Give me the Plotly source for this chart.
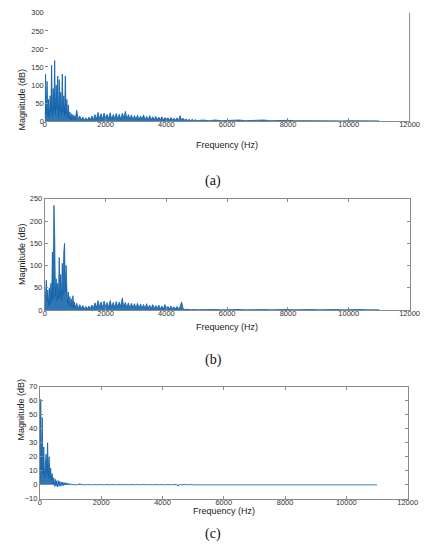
import numpy as np
import plotly.graph_objects as go

# ---------------- data (magnitudes) ----------------
# frequency grids: low band 0..1000 Hz (25 Hz), mid band 1050..5000 Hz (50 Hz), tail 5200..11000 Hz (200 Hz)
low_a = [5,130,20,110,15,60,10,70,25,155, 15,90,30,168,20,100,35,125,10,115,
         30,80,15,130,25,70,15,125,20,60, 10,45,8,25,5,20,4,18,6,15, 3]
mid_a = [30,4,14,3,11,2,9,2,11,3, 14,4,18,5,24,6,20,5,22,7,
         19,6,23,5,18,7,21,6,19,5, 22,8,27,6,18,5,17,4,15,5,
         16,4,14,5,17,4,13,3,15,4, 12,3,13,4,11,3,12,2,10,3,
         9,2,10,3,8,2,9,2,15,3, 8,2,6,1,5,1,5,1,4,1]
tail_a = [3,1,3,1,2,1,3,1,2,1, 3,1,2,1,2,1,2,1,1,0.5, 1,0.5,1,0.5,1,0.5,1,0.5,1,0.5]

low_b = [5,40,67,20,45,10,50,15,60,20, 130,25,235,165,30,70,20,60,25,118,
         30,80,20,105,35,130,150,40,100,50, 15,40,10,30,8,25,6,32,5,18, 4]
mid_b = [15,3,12,3,10,2,8,2,9,3, 11,4,16,5,21,6,18,5,20,6,
         17,5,21,6,17,5,19,6,18,7, 27,6,17,5,16,4,15,5,14,4,
         15,4,13,4,12,3,14,3,11,3, 12,3,10,3,11,2,9,2,12,3,
         8,2,9,2,7,2,8,2,7,18, 3,1,1.5,0.5,1,0.5,1,0.5,1,0.5]
tail_b = [1,0.3,1,0.3,1,0.3,1,0.3,1,0.3, 1,0.3,1,0.3,1,0.3,1,0.3,1,0.3, 1,0.3,1,0.3,1,0.3,1,0.3,1,0.3]

low_c = [2,61,10,48,8,27,5,15,22,8, 30,6,20,5,12,3,8,1,5,-1,
         4,-1,3,-1.5,3,-1,2.5,-1,2,-0.5, 2,-0.5,1.5,0,1.5,0,1,0,1,0, 0.5]
mid_c = [0.2,0,0.2,0,0.2,0.8,0.2,0,0.2,0, 0.2,0,0.2,0,0.2,0,0.2,0,0.2,0,
         0.2,0,0.2,0,0.2,0,0.2,0,0.2,0, 0.2,0,0.2,0,0.2,0,0.2,0,0.2,0,
         0.2,0,0.2,0,0.2,0,0.2,0,0.2,0, 0.2,0,0.2,0,0.2,0,0.2,0,0.2,0,
         0.2,0,0.2,0,0.2,0,0.2,0,0.2,-0.8, 0.2,0,0.2,0,0.2,0,0.2,0,0.2,0]
tail_c = [0]*30

x_ticks = [0, 2000, 4000, 6000, 8000, 10000, 12000]
x_tick_labels = ["0", "2000", "4000", "6000", "8000", "10000", "12000"]
y_ticks_a = [0, 50, 100, 150, 200, 250, 300]
y_ticks_b = [0, 50, 100, 150, 200, 250]
y_ticks_c = [-10, 0, 10, 20, 30, 40, 50, 60, 70]
captions = ["(a)", "(b)", "(c)"]

freq = np.concatenate([np.arange(0, 1001, 25), np.arange(1050, 5001, 50), np.arange(5200, 11001, 200)])

W, H = 440, 556
def px(x): return x / W
def py(y): return 1 - y / H

LINE = "#0b5ea8"
AX = "#8a8a8a"
FONT = "Liberation Sans, Arial, sans-serif"

fig = go.Figure()
panels = [
    (low_a + mid_a + tail_a, (44, 419), (9, 119), [0, 300], y_ticks_a, 17.5),
    (low_b + mid_b + tail_b, (44, 419), (198, 311), [0, 250], y_ticks_b, 17.5),
    (low_c + mid_c + tail_c, (39, 417), (389, 503), [-10, 70], y_ticks_c, 19.5),
]
for i, (vals, (x0, x1), (y0, y1), yr, yt, toff) in enumerate(panels):
    n = "" if i == 0 else str(i + 1)
    fig.add_trace(go.Scatter(x=freq, y=vals, mode="lines", line=dict(color=LINE, width=0.8),
                             fill="tozeroy", fillcolor="rgba(11,94,168,0.85)",
                             xaxis="x" + n, yaxis="y" + n, showlegend=False, hoverinfo="skip"))
    full_box = i > 0
    fig.layout["xaxis" + n] = dict(domain=[px(x0), px(x1)], anchor="y" + n, range=[0, 12000],
                                   tickvals=x_ticks, ticktext=x_tick_labels,
                                   ticks="inside", ticklen=3, tickcolor=AX, ticklabelstandoff=-4,
                                   showline=True, linecolor=AX, linewidth=1, mirror="ticks" if full_box else False,
                                   showgrid=False, zeroline=False,
                                   tickfont=dict(family=FONT, size=7.5, color="#333"))
    fig.layout["yaxis" + n] = dict(domain=[py(y1), py(y0)], anchor="x" + n, range=yr,
                                   tickvals=yt, ticks="inside", ticklen=3, tickcolor=AX,
                                   showline=full_box, linecolor=AX, linewidth=1, mirror="ticks" if full_box else False,
                                   showgrid=False, zeroline=False,
                                   tickfont=dict(family=FONT, size=7.5, color="#333"))
    # axis titles
    fig.add_annotation(x=px(13 if i == 0 else (14 if i == 1 else 12)), y=py((y0 + y1) / 2), xref="paper", yref="paper",
                       text="Magnitude (dB)", textangle=-90, showarrow=False,
                       font=dict(family=FONT, size=9, color="#222"))
    fig.add_annotation(x=px((x0 + x1) / 2), y=py(y1 + toff), xref="paper", yref="paper",
                       text="Frequency (Hz)", showarrow=False,
                       font=dict(family=FONT, size=9, color="#222"))

# right border of panel (a)
fig.add_shape(type="line", xref="x domain", yref="y domain", x0=1, x1=1, y0=0, y1=1,
              line=dict(color=AX, width=1))

for cap, yc in zip(captions, [170, 362, 549]):
    fig.add_annotation(x=px(217), y=py(yc), xref="paper", yref="paper", text=cap, showarrow=False,
                       font=dict(family="Liberation Serif, Times New Roman, serif", size=14, color="#111"))

fig.update_layout(width=W, height=H, margin=dict(l=0, r=0, t=0, b=0),
                  paper_bgcolor="white", plot_bgcolor="white")
fig.write_html("out.html")
